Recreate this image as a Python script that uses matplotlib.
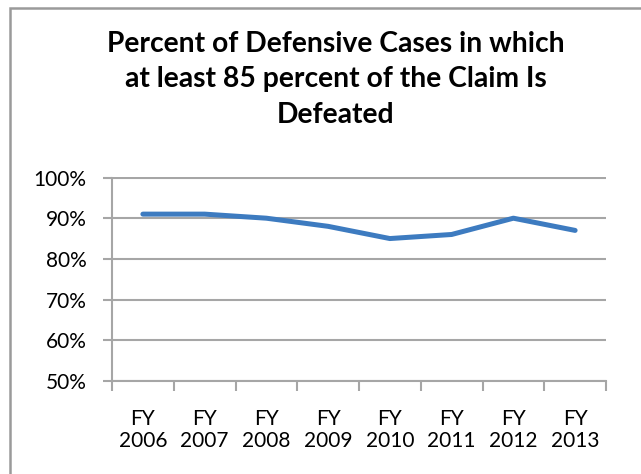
import matplotlib
matplotlib.use("Agg")
import matplotlib.pyplot as plt
from matplotlib.patches import Rectangle
from matplotlib.ticker import FixedLocator, FuncFormatter

# data
years = ["FY\n2006", "FY\n2007", "FY\n2008", "FY\n2009",
         "FY\n2010", "FY\n2011", "FY\n2012", "FY\n2013"]
percent_defeated = [91, 91, 90, 88, 85, 86, 90, 87]
y_ticks = [50, 60, 70, 80, 90, 100]

title = "Percent of Defensive Cases in which\nat least 85 percent of the Claim Is\nDefeated"

plt.rcParams["font.family"] = ["Lato", "DejaVu Sans"]
grey = "#A6A6A6"

fig = plt.figure(figsize=(6.41, 4.74), dpi=100)
ax = fig.add_axes([112 / 641, 1 - 381 / 474, 494 / 641, 203.5 / 474])

x = list(range(len(years)))
ax.plot(x, percent_defeated, color="#3D7BC0", linewidth=3.6,
        solid_capstyle="round", solid_joinstyle="round")

ax.set_xlim(-0.5, len(years) - 0.5)
ax.set_ylim(50, 100)

ax.set_yticks(y_ticks)
ax.yaxis.set_major_formatter(FuncFormatter(lambda v, p: f"{v:.0f}%"))
ax.grid(axis="y", color=grey, linewidth=1.5)
ax.set_axisbelow(True)

ax.set_xticks(x)
ax.set_xticklabels(years, linespacing=1.17)
ax.xaxis.set_minor_locator(FixedLocator([i - 0.5 for i in range(len(years) + 1)]))
ax.tick_params(axis="x", which="major", length=0, pad=20, labelsize=15)
ax.tick_params(axis="x", which="minor", length=7, width=1.5, color=grey)
ax.tick_params(axis="y", length=6.5, width=1.5, color=grey, pad=12, labelsize=15)

for side in ["top", "right"]:
    ax.spines[side].set_visible(False)
ax.spines["left"].set_color(grey)
ax.spines["left"].set_linewidth(1.5)
ax.spines["bottom"].set_color(grey)
ax.spines["bottom"].set_linewidth(1.5)

fig.text(336 / 641, 1 - 31 / 474, title, ha="center", va="top",
         fontsize=20.3, fontweight="bold", linespacing=1.45)

# chart border (right and bottom edges run off the image)
fig.patches.append(Rectangle((9.5 / 641, -0.1), 1.2, 1 - 7.5 / 474 + 0.1,
                             transform=fig.transFigure, fill=False,
                             edgecolor="#9A9A9A", linewidth=1.8))

fig.savefig("out.png", dpi=100)
